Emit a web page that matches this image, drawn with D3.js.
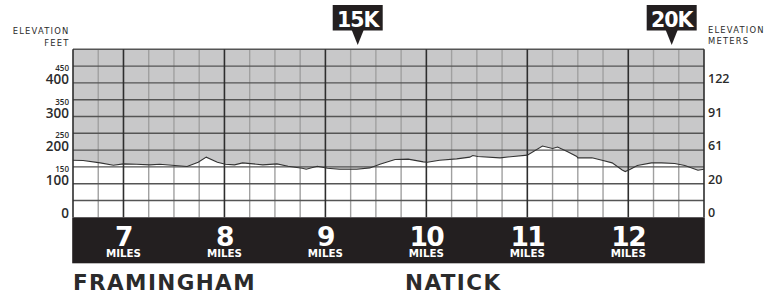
<!DOCTYPE html>
<html>
<head>
<meta charset="utf-8">
<script src="https://cdn.jsdelivr.net/npm/d3@7"></script>
<style>
  html, body { margin: 0; padding: 0; background: #fff; }
  svg { display: block; font-family: "DejaVu Sans", sans-serif; }
</style>
</head>
<body>
<div id="canvas"></div>
<script>
	// course profile: mile marker and elevation in feet
	const profileMiles = [6.50, 6.60, 6.77, 6.90, 7.00, 7.13, 7.26, 7.36, 7.51, 7.63, 7.74, 7.82, 7.93,
		8.01, 8.10, 8.18, 8.32, 8.38, 8.52, 8.63, 8.77, 8.81, 8.92, 9.02, 9.14, 9.31, 9.44, 9.54, 9.69,
		9.82, 9.97, 10.01, 10.13, 10.30, 10.43, 10.46, 10.51, 10.73, 10.86, 11.00, 11.15, 11.25, 11.30,
		11.40, 11.49, 11.50, 11.64, 11.74, 11.84, 11.94, 11.97, 12.02, 12.09, 12.23, 12.33, 12.46, 12.56,
		12.69, 12.75];
	const profileFeet = [170, 169, 162, 155, 159, 158, 156, 158, 154, 151, 164, 179, 164,
		158, 156, 162, 158, 156, 159, 152, 146, 143, 152, 146, 143, 143, 147, 158, 172,
		173, 165, 164, 170, 174, 179, 184, 181, 177, 181, 185, 212, 205, 209,
		195, 181, 177, 177, 170, 162, 141, 136, 143, 154, 162, 162, 160, 154,
		140, 143];

	const mileTicks = [7, 8, 9, 10, 11, 12];
	const feetBig = [0, 100, 200, 300, 400];
	const feetSmall = [150, 250, 350, 450];
	const meterLabels = ["0", "20", "61", "91", "122"];
	const markerNames = ["15K", "20K"];
	const markerMiles = [9.32, 12.43];
	const townNames = ["FRAMINGHAM", "NATICK"];

	const W = 774, H = 300;
	const plot = {left: 73, right: 704, top: 49.3, bottom: 217.3, band: 263.3};
	const colors = {sky: "#c8c8c9", band: "#231f20", text: "#2b2b2b", minor: "#a0a0a0", hLine: "#555", major: "#2e2e2e"};
	const numFont = "'Open Sans', sans-serif";

	const svg = d3.select("#canvas").append("svg").attr("width", W).attr("height", H);

	const x = d3.scaleLinear().domain([6.5, 12.75]).range([plot.left, plot.right]);
	const y = d3.scaleLinear().domain([0, 500]).range([plot.bottom, plot.top]);

	const profile = profileMiles.map((m, i) => ({m, ft: profileFeet[i]}));

	/*============= plot background and ground ===============*/
	svg.append("rect")
		.attr("x", plot.left).attr("y", plot.top)
		.attr("width", plot.right - plot.left).attr("height", plot.bottom - plot.top)
		.attr("fill", colors.sky);

	svg.append("path")
		.datum(profile)
		.attr("fill", "#fff")
		.attr("d", d3.area().x(d => x(d.m)).y0(y(0)).y1(d => y(d.ft)));

	/*============= grid ===============*/
	const quarters = d3.range(6.75, 12.75, 0.25).filter(q => !Number.isInteger(q));
	svg.append("g").selectAll("line")
		.data(quarters).join("line")
		.attr("x1", d => x(d)).attr("x2", d => x(d))
		.attr("y1", plot.top).attr("y2", plot.bottom)
		.attr("stroke", colors.minor).attr("stroke-width", 1.4);

	svg.append("g").selectAll("line")
		.data(d3.range(50, 501, 50)).join("line")
		.attr("x1", plot.left).attr("x2", plot.right)
		.attr("y1", d => y(d)).attr("y2", d => y(d))
		.attr("stroke", colors.hLine).attr("stroke-width", 1.4);

	svg.append("g").selectAll("line")
		.data(mileTicks).join("line")
		.attr("x1", d => x(d)).attr("x2", d => x(d))
		.attr("y1", plot.top).attr("y2", plot.bottom)
		.attr("stroke", colors.major).attr("stroke-width", 1.6);

	svg.append("path")
		.datum(profile)
		.attr("fill", "none")
		.attr("stroke", "#333")
		.attr("stroke-width", 1.1)
		.attr("d", d3.line().x(d => x(d.m)).y(d => y(d.ft)));

	svg.append("g").selectAll("line")
		.data([plot.left, plot.right]).join("line")
		.attr("x1", d => d).attr("x2", d => d)
		.attr("y1", plot.top).attr("y2", plot.bottom)
		.attr("stroke", colors.major).attr("stroke-width", 1.6);

	/*============= mile band ===============*/
	svg.append("rect")
		.attr("x", plot.left - 0.8).attr("y", plot.bottom)
		.attr("width", plot.right - plot.left + 1.6).attr("height", plot.band - plot.bottom)
		.attr("fill", colors.band);

	const miles = svg.append("g").selectAll("g")
		.data(mileTicks).join("g")
		.attr("transform", d => `translate(${x(d)},0)`)
		.attr("fill", "#fff").attr("text-anchor", "middle").attr("font-weight", "bold");
	miles.append("text")
		.attr("y", 245.5).attr("font-size", 26.5).attr("letter-spacing", -1.5)
		.text(d => d);
	miles.append("text")
		.attr("y", 256.8).attr("font-size", 10.3)
		.text("MILES");

	/*============= axes labels ===============*/
	svg.append("g").selectAll("text")
		.data(feetBig).join("text")
		.attr("x", 69).attr("y", d => y(d) + 1)
		.attr("text-anchor", "end").attr("font-family", numFont)
		.attr("font-size", 13.5).attr("font-weight", 600).attr("fill", colors.text)
		.text(d => d);

	svg.append("g").selectAll("text")
		.data(feetSmall).join("text")
		.attr("x", 69).attr("y", d => y(d) + 5)
		.attr("text-anchor", "end").attr("font-family", numFont)
		.attr("font-size", 8).attr("font-weight", 600).attr("fill", colors.text)
		.text(d => d);

	svg.append("g").selectAll("text")
		.data(meterLabels).join("text")
		.attr("x", 708).attr("y", (d, i) => y(feetBig[i]))
		.attr("font-family", numFont)
		.attr("font-size", 12.5).attr("font-weight", 600).attr("fill", colors.text)
		.text(d => d);

	const unitText = (xPos, anchor, lines, baselines) => {
		svg.append("g").selectAll("text")
			.data(lines).join("text")
			.attr("x", xPos).attr("y", (d, i) => baselines[i])
			.attr("text-anchor", anchor).attr("font-size", 8.4)
			.attr("letter-spacing", 1.2).attr("fill", colors.text)
			.text(d => d);
	};
	unitText(69.5, "end", ["ELEVATION", "FEET"], [34.3, 46]);
	unitText(708, "start", ["ELEVATION", "METERS"], [32.7, 44.3]);

	/*============= distance markers ===============*/
	const markers = svg.append("g").selectAll("g")
		.data(markerNames).join("g")
		.attr("transform", (d, i) => `translate(${x(markerMiles[i])},0)`);
	markers.append("rect")
		.attr("x", -25).attr("y", 5).attr("width", 50).attr("height", 25.5)
		.attr("fill", colors.band);
	markers.append("path")
		.attr("d", "M-6,30 L6,30 L0,45 Z")
		.attr("fill", colors.band);
	markers.append("text")
		.attr("y", 26.5).attr("text-anchor", "middle")
		.attr("font-size", 20.5).attr("font-weight", "bold").attr("letter-spacing", -1)
		.attr("fill", "#fff")
		.text(d => d);

	/*============= towns ===============*/
	svg.append("g").selectAll("text")
		.data(townNames).join("text")
		.attr("x", (d, i) => [73, 405][i]).attr("y", 290)
		.attr("font-size", 21.5).attr("font-weight", "bold").attr("letter-spacing", 1.4)
		.attr("fill", colors.text)
		.text(d => d);
</script>
</body>
</html>
